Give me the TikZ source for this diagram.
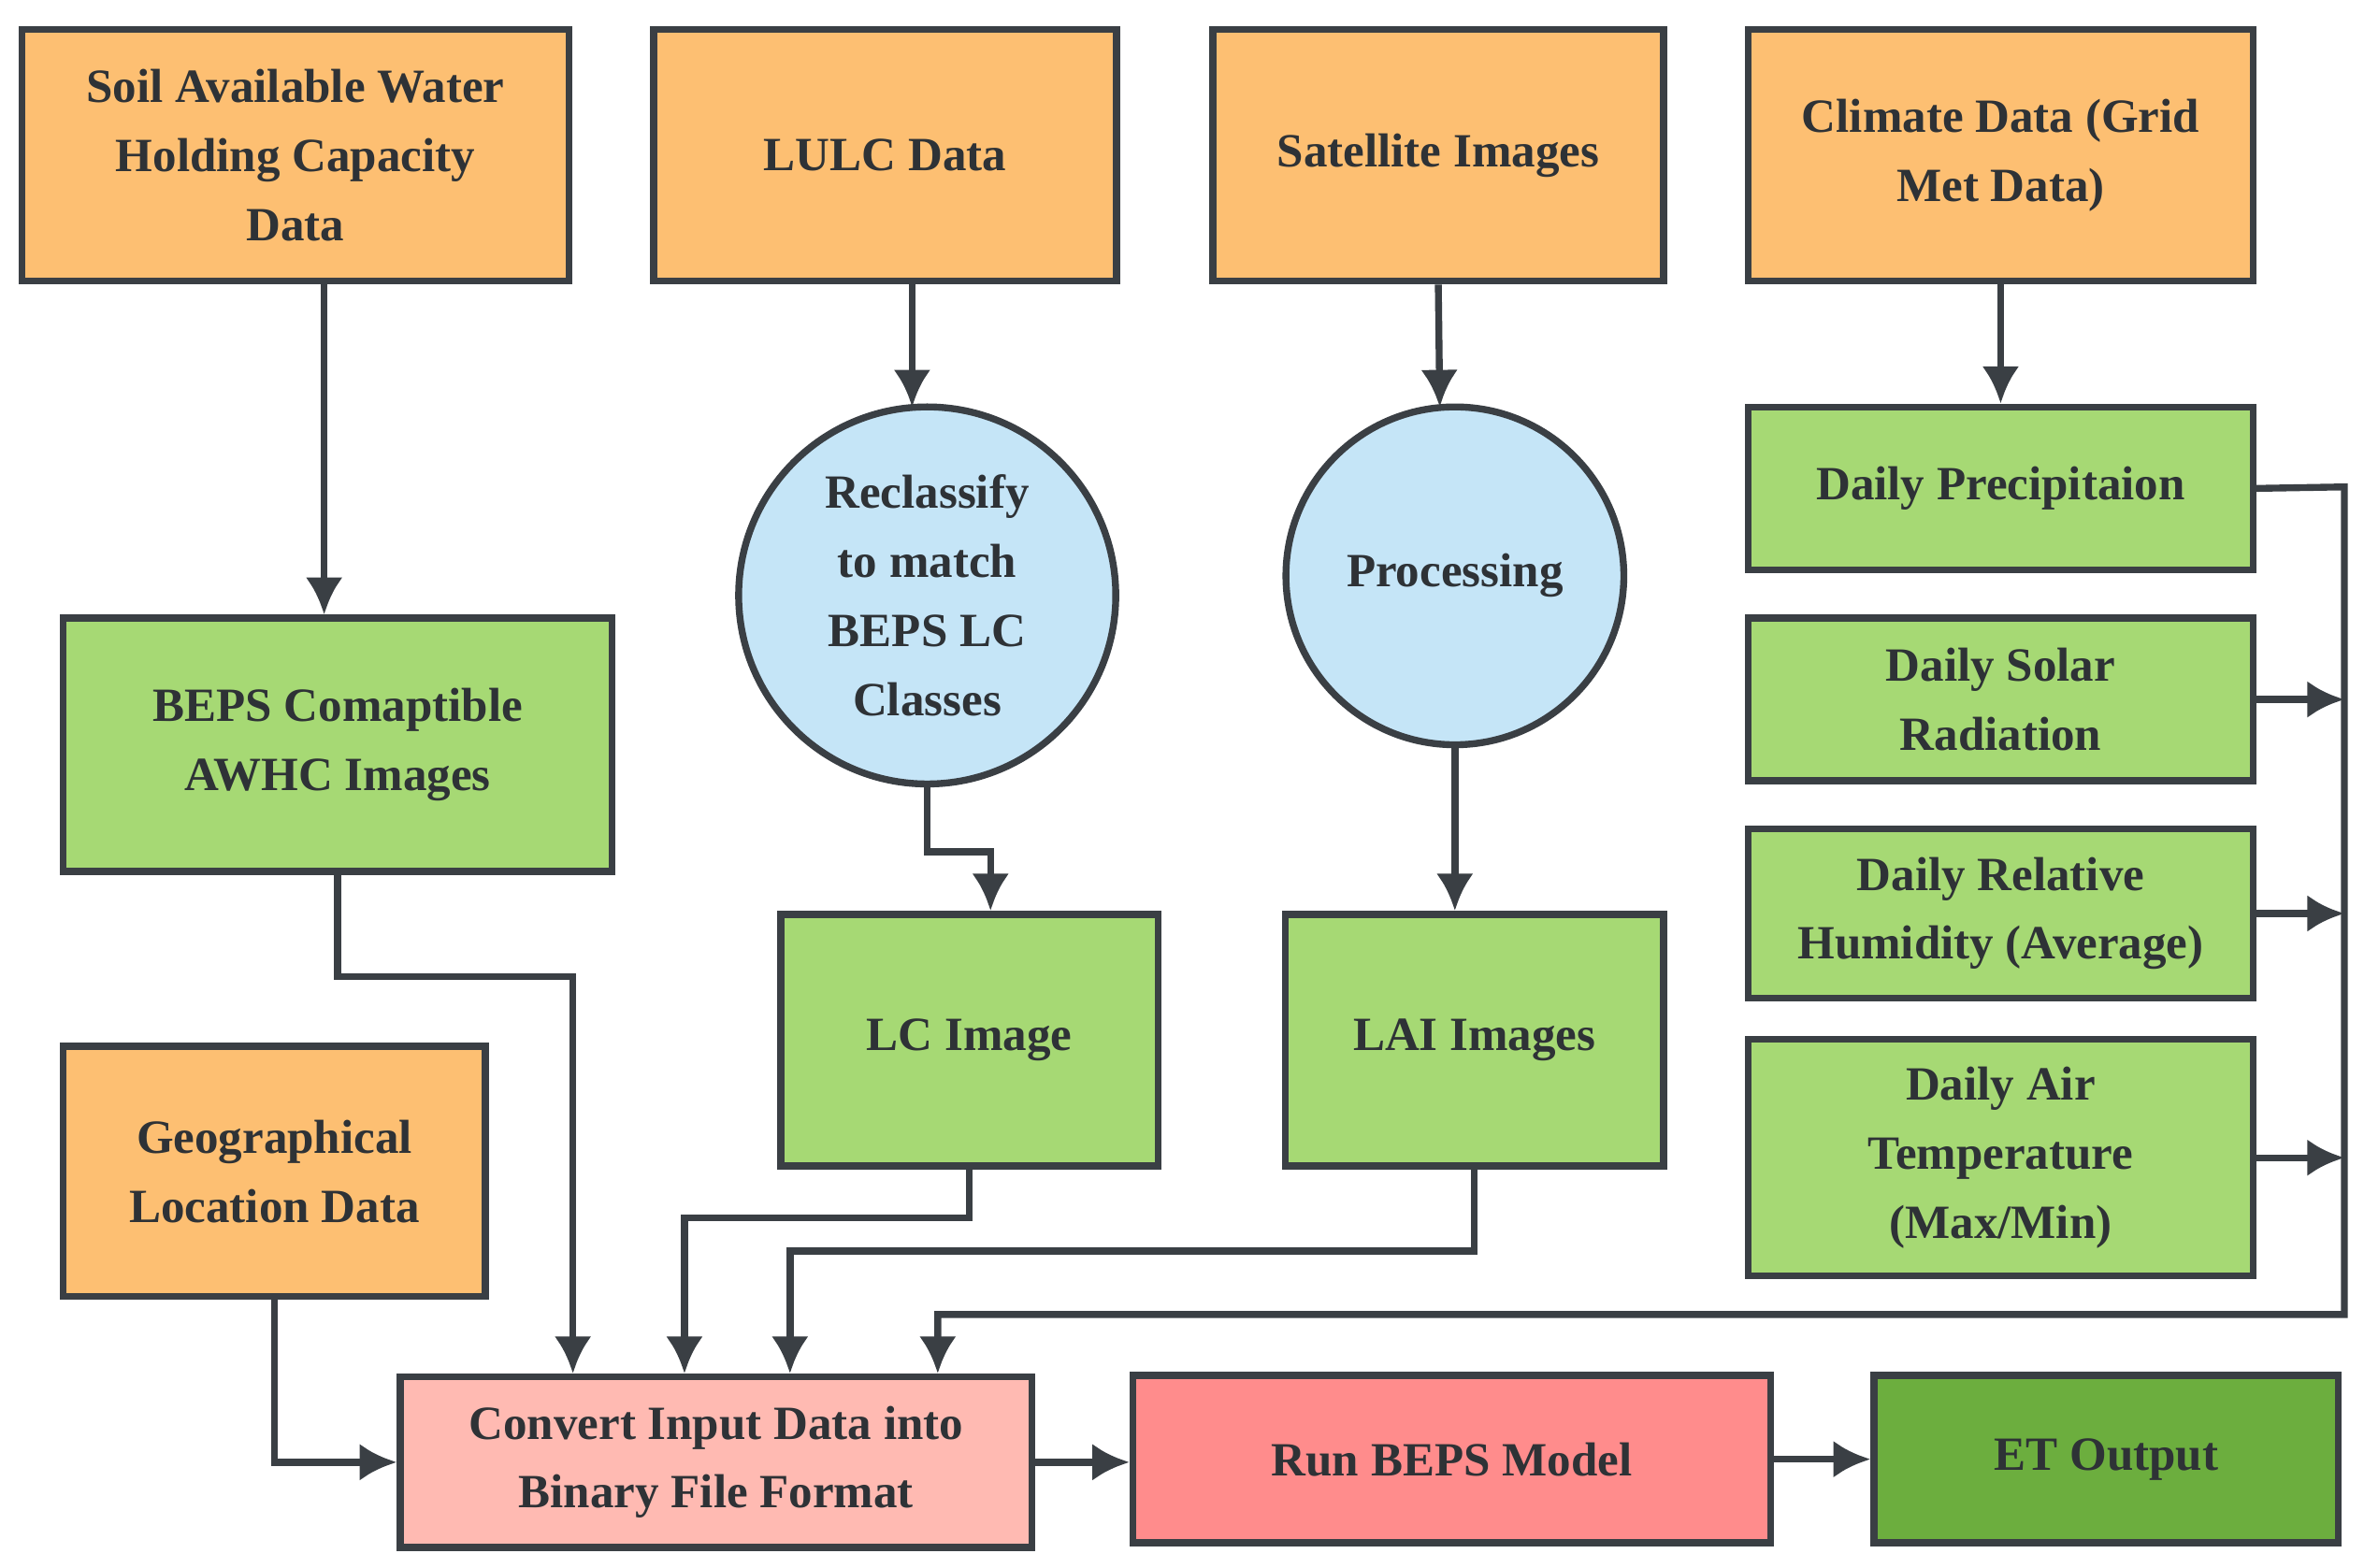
\documentclass[tikz,border=0pt]{standalone}
\usepackage{fontspec}
\setmainfont{Liberation Serif}
\usetikzlibrary{calc,arrows.meta}
\definecolor{org}{HTML}{FDBF72}
\definecolor{grn}{HTML}{A6D974}
\definecolor{dgrn}{HTML}{6CAE3E}
\definecolor{blu}{HTML}{C5E5F7}
\definecolor{pnk}{HTML}{FFBAB2}
\definecolor{red}{HTML}{FF8C8C}
\definecolor{ln}{HTML}{3A3F44}
\begin{document}
\begin{tikzpicture}[x=0.01cm,y=-0.01cm,
 box/.style={draw=ln,line width=1.3pt,align=center,inner sep=2pt,font=\fontsize{9}{13}\selectfont\bfseries,text=ln!80!black},
 circ/.style={box,circle},
 arr/.style={draw=ln,line width=1.3pt,-{Latex[length=7pt,width=7pt]}},
 ln/.style={draw=ln,line width=1.3pt}]
\useasboundingbox (0,0) rectangle (1568,1040);
\newcommand{\bx}[7]{\node[box,fill=#6,minimum width=#4*0.01cm,minimum height=#5*0.01cm] (#1) at (#2,#3) {#7};}
\bx{soil}{196}{103}{363}{167}{org}{Soil Available Water\\Holding Capacity\\Data}
\bx{lulc}{587}{103}{307}{167}{org}{LULC Data}
\bx{sat}{954}{103}{299}{167}{org}{Satellite Images}
\bx{clim}{1327}{103}{335}{167}{org}{Climate Data (Grid\\Met Data)}
\bx{awhc}{224}{494}{364}{168}{grn}{BEPS Comaptible\\AWHC Images}
\node[circ,fill=blu,minimum size=2.5cm] (recl) at (615,395) {Reclassify\\to match\\BEPS LC\\Classes};
\node[circ,fill=blu,minimum size=2.24cm] (proc) at (965,382) {Processing};
\bx{prec}{1327}{324}{335}{108}{grn}{Daily Precipitaion}
\bx{sol}{1327}{464}{335}{108}{grn}{Daily Solar\\Radiation}
\bx{rh}{1327}{606}{335}{112}{grn}{Daily Relative\\Humidity (Average)}
\bx{air}{1327}{768}{335}{157}{grn}{Daily Air\\Temperature\\(Max/Min)}
\bx{lc}{643}{690}{250}{167}{grn}{LC Image}
\bx{lai}{978}{690}{251}{167}{grn}{LAI Images}
\bx{geo}{182}{777}{280}{166}{org}{Geographical\\Location Data}
\bx{conv}{475}{970}{419}{113}{pnk}{Convert Input Data into\\Binary File Format}
\bx{run}{963}{968}{423}{111}{red}{Run BEPS Model}
\bx{et}{1397}{968}{308}{111}{dgrn}{ET Output}
\coordinate (bus) at (1555,323);
\draw[arr] (soil.south -| 215,0) -- (awhc.north -| 215,0);
\draw[arr] (lulc.south -| 605,0) -- (605,270);
\draw[arr] (sat.south) -- (955,270);
\draw[arr] (clim.south) -- (prec.north);
\draw[arr] (recl.south) -- (615,565) -| ([xshift=0.14cm]lc.north);
\draw[arr] (proc.south) -- (lai.north -| proc.south);
\draw[arr] (prec.east) -- (bus) |- (622,872) -- (conv.north -| 622,0);
\draw[arr] (sol.east) -- (1555,464);
\draw[arr] (rh.east) -- (1555,606);
\draw[arr] (air.east) -- (1555,768);
\draw[arr] (awhc.south) -- (224,648) -| (conv.north -| 380,0);
\draw[arr] (lc.south) -- (643,808) -| (conv.north -| 454,0);
\draw[arr] (lai.south) -- (978,830) -| (conv.north -| 524,0);
\draw[arr] (geo.south) |- (conv.west);
\draw[arr] (conv.east) -- (run.west |- conv.east);
\draw[arr] (run.east) -- (et.west);
\end{tikzpicture}
\end{document}
